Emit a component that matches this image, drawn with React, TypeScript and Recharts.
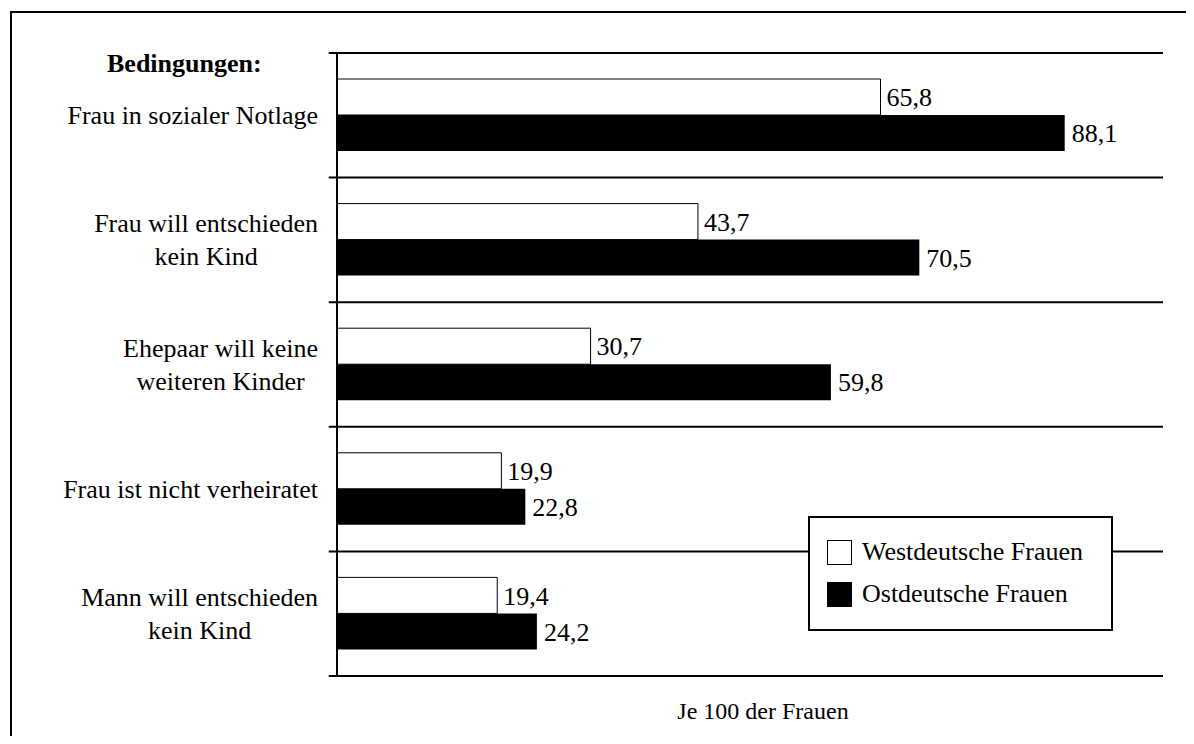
import React from 'react';
import { BarChart, Bar, XAxis, YAxis, ReferenceLine, LabelList } from 'recharts';

const categories = [
  'Frau in sozialer Notlage',
  'Frau will entschieden\nkein Kind',
  'Ehepaar will keine\nweiteren Kinder',
  'Frau ist nicht verheiratet',
  'Mann will entschieden\nkein Kind',
];
const westValues = [65.8, 43.7, 30.7, 19.9, 19.4];
const eastValues = [88.1, 70.5, 59.8, 22.8, 24.2];
const seriesNames = ['Westdeutsche Frauen', 'Ostdeutsche Frauen'];
const seriesColors = ['#fff', '#000'];

const data = categories.map((name, i) => ({ name, west: westValues[i], east: eastValues[i] }));

// separator lines: top edge of every band plus the bottom edge of the last one
const separators = [
  ...categories.map((c) => ({ cat: c, pos: 'start' as const })),
  { cat: categories[categories.length - 1], pos: 'end' as const },
];

const FONT = "'Liberation Serif', 'Times New Roman', serif";

let ctx: CanvasRenderingContext2D | null = null;
const measure = (s: string) => {
  if (!ctx) ctx = document.createElement('canvas').getContext('2d');
  if (!ctx) return s.length * 12;
  ctx.font = `26px ${FONT}`;
  return ctx.measureText(s).width;
};

const CategoryTick = (props: any) => {
  const { x, y, payload } = props;
  const lines = String(payload.value).split('\n');
  const maxW = Math.max(...lines.map(measure));
  const cx = x - 11 - maxW / 2;
  return (
    <g>
      {lines.map((l, i) => (
        <text
          key={i}
          x={cx}
          y={y + 9 + (i - (lines.length - 1) / 2) * 33}
          textAnchor="middle"
          fontFamily={FONT}
          fontSize={26}
          fill="#000"
        >
          {l}
        </text>
      ))}
    </g>
  );
};

const fmt = (v: any) => String(v).replace('.', ',');

// legend box drawn over the chart so it hides the grid line behind it
const LegendBox = () => (
  <div
    style={{
      position: 'absolute',
      left: 800,
      top: 508,
      width: 301,
      height: 111,
      border: '2px solid #000',
      background: '#fff',
      fontFamily: FONT,
      fontSize: 26,
    }}
  >
    {seriesNames.map((name, i) => (
      <div key={name} style={{ display: 'flex', alignItems: 'center', height: 42, marginTop: i === 0 ? 13 : 0, paddingLeft: 17 }}>
        <div
          style={{
            width: 23,
            height: 23,
            border: '1.5px solid #000',
            background: seriesColors[i],
            marginRight: 10,
          }}
        />
        <span style={{ color: '#000', lineHeight: '26px' }}>{name}</span>
      </div>
    ))}
  </div>
);

export default function App() {
  return (
    <div style={{ position: 'relative', width: 1178, height: 728, overflow: 'hidden' }}>
      <div
        style={{
          position: 'absolute',
          left: 2,
          top: 3,
          width: 2000,
          height: 2000,
          border: '2px solid #000',
        }}
      />
      <div style={{ position: 'absolute', left: 0, top: 0 }}>
        <BarChart
          width={1178}
          height={728}
          data={data}
          layout="vertical"
          margin={{ top: 45, right: 23, bottom: 60, left: 0 }}
          barSize={36}
          barGap={0}
        >
          <XAxis type="number" domain={[0, 100]} hide />
          <YAxis
            type="category"
            dataKey="name"
            width={329}
            axisLine={{ stroke: '#000', strokeWidth: 2 }}
            tickLine={false}
            tick={<CategoryTick />}
            interval={0}
          />
          {separators.map((s, i) => (
            <ReferenceLine
              key={i}
              ifOverflow="visible"
              position={s.pos}
              segment={[{ x: -1, y: s.cat }, { x: 100, y: s.cat }]}
              stroke="#000"
              strokeWidth={2}
            />
          ))}
          <Bar dataKey="west" name={seriesNames[0]} fill={seriesColors[0]} stroke="#000" strokeWidth={1} isAnimationActive={false}>
            <LabelList dataKey="west" position="right" offset={6} formatter={fmt} fill="#000" fontFamily={FONT} fontSize={26} />
          </Bar>
          <Bar dataKey="east" name={seriesNames[1]} fill={seriesColors[1]} isAnimationActive={false}>
            <LabelList dataKey="east" position="right" offset={7} formatter={fmt} fill="#000" fontFamily={FONT} fontSize={26} />
          </Bar>
        </BarChart>
      </div>
      <LegendBox />
      <svg width={1178} height={728} style={{ position: 'absolute', left: 0, top: 0, pointerEvents: 'none' }}>
        <text x={99} y={64} fontFamily={FONT} fontSize={26} fontWeight="bold" fill="#000">
          Bedingungen:
        </text>
        <text x={755} y={711} textAnchor="middle" fontFamily={FONT} fontSize={24} fill="#000">
          Je 100 der Frauen
        </text>
      </svg>
    </div>
  );
}
